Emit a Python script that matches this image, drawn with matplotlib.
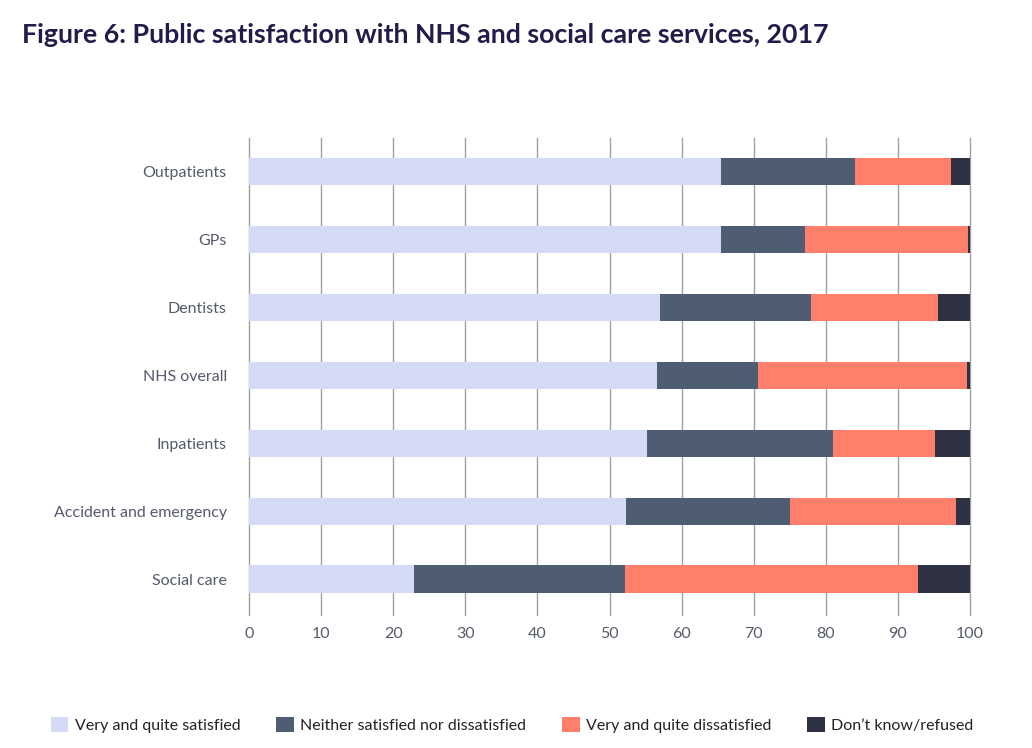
import matplotlib
matplotlib.use("Agg")
import matplotlib.pyplot as plt
import numpy as np

categories = ["Outpatients", "GPs", "Dentists", "NHS overall", "Inpatients",
              "Accident and emergency", "Social care"]
satisfied = [65.5, 65.5, 57.0, 56.6, 55.2, 52.3, 22.9]
neither = [18.5, 11.6, 20.9, 14.0, 25.8, 22.7, 29.2]
dissatisfied = [13.4, 22.6, 17.7, 29.0, 14.1, 23.1, 40.7]
dont_know = [2.6, 0.3, 4.4, 0.4, 4.9, 1.9, 7.2]

series_names = ["Very and quite satisfied", "Neither satisfied nor dissatisfied",
                "Very and quite dissatisfied", "Don\u2019t know/refused"]
colors = ["#d5dbf7", "#4f5d73", "#ff7f6b", "#2e3142"]

plt.rcParams["font.family"] = ["Lato", "DejaVu Sans"]

fig = plt.figure(figsize=(10.32, 7.48), dpi=100)
ax = fig.add_axes([249 / 1032, 1 - 615 / 748, 721 / 1032, 477 / 748])

y = np.arange(len(categories))
left = np.zeros(len(categories))
for vals, name, col in zip([satisfied, neither, dissatisfied, dont_know], series_names, colors):
    ax.barh(y, vals, left=left, height=0.4, color=col, label=name, zorder=3)
    left += np.array(vals)

ax.set_xlim(0, 100)
ax.set_ylim(6.53, -0.5)
ax.set_xticks(np.arange(0, 101, 10))
ax.set_yticks(y)
ax.set_yticklabels(categories)
ax.xaxis.grid(True, color="#a0a0a0", linewidth=1.0, zorder=0)
for gl in ax.get_xgridlines():
    gl.set_clip_on(False)
for s in ax.spines.values():
    s.set_visible(False)
ax.tick_params(axis="both", length=0, labelsize=11.5, colors="#555b6b")
ax.tick_params(axis="y", pad=16)
ax.tick_params(axis="x", pad=9)

fig.text(22 / 1032, 1 - 35 / 748, "Figure 6: Public satisfaction with NHS and social care services, 2017",
         fontsize=19.3, fontweight="bold", color="#231c4a", va="center", ha="left")

fig.legend(loc="center", bbox_to_anchor=(512 / 1032, 1 - 725 / 748), ncol=4, frameon=False,
           fontsize=11.5, handlelength=1.1, handleheight=1.1, columnspacing=2.25,
           handletextpad=0.4, labelcolor="#222222")

fig.savefig("out.png", dpi=100)
